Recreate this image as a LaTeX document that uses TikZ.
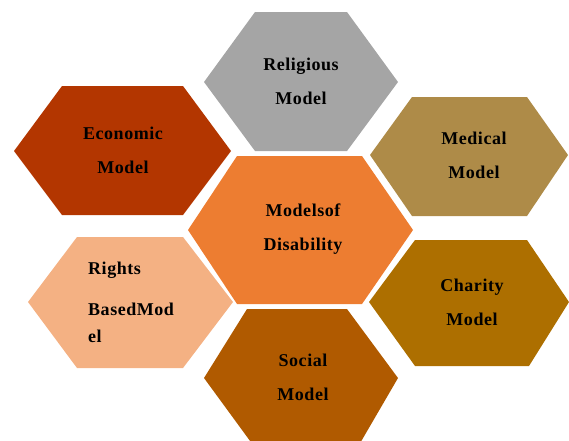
\documentclass[tikz,border=0pt]{standalone}
\usepackage{fontspec}
\setmainfont{Liberation Serif}[LetterSpace=3]
\usepackage{tikz}

\definecolor{religioso}{HTML}{A5A5A5}
\definecolor{economico}{HTML}{B33600}
\definecolor{medico}{HTML}{AE8B48}
\definecolor{central}{HTML}{ED7D31}
\definecolor{derechos}{HTML}{F4B183}
\definecolor{caridad}{HTML}{AD6F00}
\definecolor{social}{HTML}{B05A00}

\begin{document}
\begin{tikzpicture}[x=1pt, y=-1pt,
    etiqueta/.style={font=\fontsize{18}{34}\selectfont\bfseries, align=center, inner sep=0pt, text=black}]
    \useasboundingbox (0,0) rectangle (569,440);
    % Hexágonos
    \fill[religioso] (255,12) -- (347,12) -- (398,82) -- (347,151) -- (255,151) -- (204,82) -- cycle;
    \fill[economico] (62,86) -- (183,86) -- (231,151) -- (183,215) -- (62,215) -- (14,151) -- cycle;
    \fill[medico] (412,97) -- (527,97) -- (568,155) -- (527,216) -- (412,216) -- (370,155) -- cycle;
    \fill[central] (237,156) -- (362,156) -- (413,230) -- (362,304) -- (237,304) -- (188,230) -- cycle;
    \fill[derechos] (77,237) -- (183,237) -- (233,302) -- (183,368) -- (77,368) -- (28,302) -- cycle;
    \fill[caridad] (415,240) -- (527,240) -- (569,302) -- (529,366) -- (415,366) -- (369,302) -- cycle;
    \fill[social] (247,309) -- (347,309) -- (398,378) -- (359,445) -- (253,445) -- (204,378) -- cycle;
    % Etiquetas
    \node[etiqueta] (religious) at (301,81.5) {Religious\\Model};
    \node[etiqueta] (economic) at (123,150) {Economic\\Model};
    \node[etiqueta] (medical) at (474,155) {Medical\\Model};
    \node[etiqueta] (models) at (303,229.5) {Modelsof\\Disability};
    \node[etiqueta, align=left, anchor=north west, font=\fontsize{18}{27}\selectfont\bfseries] (rights) at (88,262) {Rights\\[14pt]BasedMod\\el};
    \node[etiqueta] (charity) at (472,302.5) {Charity\\Model};
    \node[etiqueta] (social) at (303,377.5) {Social\\Model};
\end{tikzpicture}
\end{document}
